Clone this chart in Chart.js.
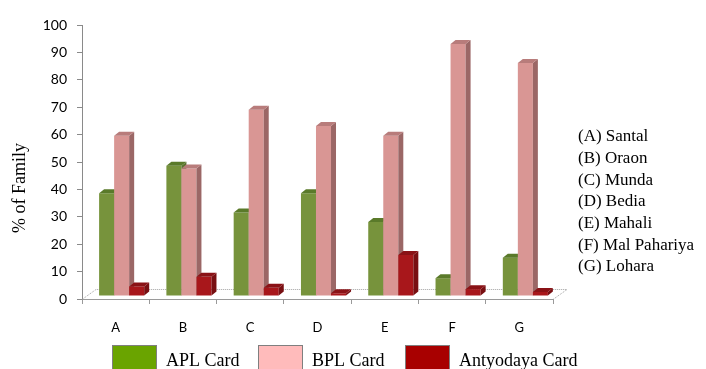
<!DOCTYPE html>
<html>
<head>
<meta charset="utf-8">
<script src="https://cdn.jsdelivr.net/npm/chart.js@4/dist/chart.umd.min.js"></script>
<style>
  html, body { margin: 0; padding: 0; background: #ffffff; overflow: hidden; }
  canvas { display: block; }
</style>
</head>
<body>
<canvas id="chart" width="706" height="369"></canvas>
<script>
// Ration card holding by tribe (% of families)
const categories = ['A', 'B', 'C', 'D', 'E', 'F', 'G'];
const tribes = ['Santal', 'Oraon', 'Munda', 'Bedia', 'Mahali', 'Mal Pahariya', 'Lohara'];
const seriesNames = ['APL Card', 'BPL Card', 'Antyodaya Card'];
const aplCard = [37.5, 47.5, 30.5, 37.5, 27, 6.5, 14];
const bplCard = [58.5, 46.5, 68, 62, 58.5, 92, 85];
const antyodayaCard = [3.5, 7, 3, 1, 15, 2.5, 1.5];
const yTickStep = 10;
const yMax = 100;

// Colours: front face, shaded side, shaded top, and the flat key swatch
const palette = [
  { front: '#77933c', side: '#5b7330', top: '#5a7a2a', key: '#6aa400' },
  { front: '#d99694', side: '#9b6766', top: '#b87c7b', key: '#ffbbbb' },
  { front: '#a8171b', side: '#780f12', top: '#8a1216', key: '#a80000' }
];

const barDepth = { dx: 5, dy: -4 };     // extrusion of each bar
const barShift = { x: 6, y: -3 };       // bars stand a little behind the front floor edge
const floorDepth = { dx: 14, dy: -10 }; // depth of the floor plane
const serif = '"Liberation Serif", "Times New Roman", serif';
const sans = 'Lato, "Liberation Sans", sans-serif';

function poly(ctx, pts, fill) {
  ctx.beginPath();
  ctx.moveTo(pts[0][0], pts[0][1]);
  for (let i = 1; i < pts.length; i++) ctx.lineTo(pts[i][0], pts[i][1]);
  ctx.closePath();
  ctx.fillStyle = fill;
  ctx.fill();
}

const pseudo3d = {
  id: 'pseudo3d',
  beforeDatasetsDraw(chart) {
    // floor outline behind the bars
    const { left, right, bottom } = chart.chartArea;
    const ctx = chart.ctx;
    ctx.save();
    ctx.strokeStyle = '#a0a0a0';
    ctx.lineWidth = 1;
    ctx.setLineDash([1, 1]);
    ctx.beginPath();
    ctx.moveTo(left, bottom + 0.5);
    ctx.lineTo(left + floorDepth.dx, bottom + floorDepth.dy + 0.5);
    ctx.lineTo(right + floorDepth.dx, bottom + floorDepth.dy + 0.5);
    ctx.lineTo(right, bottom + 0.5);
    ctx.stroke();
    ctx.restore();
  },
  beforeDatasetDraw() {
    // bars are painted below, series by series, with their shaded faces
    return false;
  },
  afterDatasetsDraw(chart) {
    const ctx = chart.ctx;
    ctx.save();
    ctx.translate(barShift.x, barShift.y);
    chart.data.datasets.forEach((ds, i) => {
      const meta = chart.getDatasetMeta(i);
      const c = palette[i];
      meta.data.forEach(el => {
        const { x, y, base, width } = el.getProps(['x', 'y', 'base', 'width'], true);
        const l = x - width / 2, r = x + width / 2;
        el.draw(ctx, chart.chartArea);
        poly(ctx, [[r, y], [r + barDepth.dx, y + barDepth.dy], [r + barDepth.dx, base + barDepth.dy], [r, base]], c.side);
        poly(ctx, [[l, y], [r, y], [r + barDepth.dx, y + barDepth.dy], [l + barDepth.dx, y + barDepth.dy]], c.top);
      });
    });
    ctx.restore();
  },
  afterDraw(chart) {
    const ctx = chart.ctx;
    ctx.save();
    // vertical axis title
    ctx.fillStyle = '#000';
    ctx.font = '18px ' + serif;
    ctx.textAlign = 'center';
    ctx.textBaseline = 'middle';
    ctx.translate(20, 188);
    ctx.rotate(-Math.PI / 2);
    ctx.fillText('% of Family', 0, 0);
    ctx.restore();

    // tribe list on the right
    ctx.save();
    ctx.fillStyle = '#000';
    ctx.font = '17px ' + serif;
    ctx.textAlign = 'left';
    ctx.textBaseline = 'middle';
    categories.forEach((c, i) => {
      ctx.fillText('(' + c + ') ' + tribes[i], 578, 137 + i * 21.67);
    });
    ctx.restore();

    // series key along the bottom
    ctx.save();
    const keyX = [112, 258, 405];
    ctx.font = '18px ' + serif;
    ctx.textBaseline = 'alphabetic';
    ctx.textAlign = 'left';
    seriesNames.forEach((name, i) => {
      ctx.fillStyle = palette[i].key;
      ctx.fillRect(keyX[i], 345, 45, 26);
      ctx.strokeStyle = '#7f7f7f';
      ctx.lineWidth = 1;
      ctx.strokeRect(keyX[i] + 0.5, 345.5, 44, 26);
      ctx.fillStyle = '#000';
      ctx.fillText(name, keyX[i] + 54, 366);
    });
    ctx.restore();
  }
};

const series = [aplCard, bplCard, antyodayaCard];

new Chart(document.getElementById('chart'), {
  type: 'bar',
  data: {
    labels: categories,
    datasets: series.map((values, i) => ({
      label: seriesNames[i],
      data: values,
      backgroundColor: palette[i].front,
      borderWidth: 0,
      barPercentage: 1,
      categoryPercentage: 0.67
    }))
  },
  options: {
    responsive: false,
    animation: false,
    events: [],
    layout: { padding: { left: 0, top: 25, right: 153, bottom: 0 } },
    plugins: { legend: { display: false }, tooltip: { enabled: false } },
    scales: {
      x: {
        afterFit(scale) { scale.height = 70; },
        grid: { drawOnChartArea: false, tickLength: 5, color: '#9a9a9a', offset: true },
        border: { color: '#9a9a9a', dash: [1, 1] },
        ticks: { color: '#000', font: { family: sans, size: 13 }, padding: 16 }
      },
      y: {
        min: 0,
        max: yMax,
        afterFit(scale) { scale.width = 82; },
        grid: { drawOnChartArea: false, tickLength: 5, color: '#8a8a8a' },
        border: { color: '#8a8a8a' },
        ticks: { stepSize: yTickStep, color: '#000', font: { family: sans, size: 14 }, padding: 10 }
      }
    }
  },
  plugins: [pseudo3d]
});
</script>
</body>
</html>
